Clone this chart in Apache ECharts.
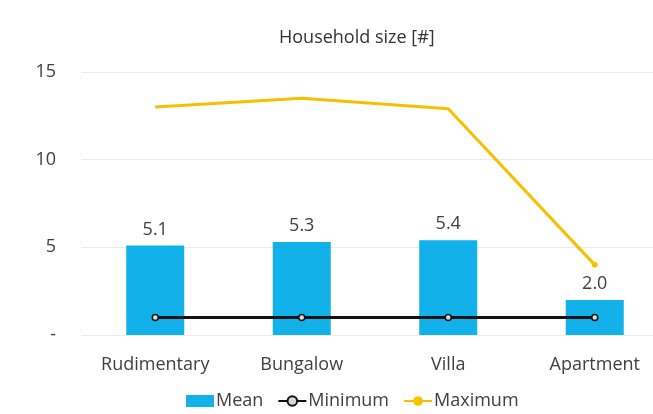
<!DOCTYPE html>
<html>
<head>
<meta charset="utf-8">
<script src="https://cdn.jsdelivr.net/npm/echarts@6/dist/echarts.min.js"></script>
<style>
  html, body { margin: 0; padding: 0; background: #ffffff; }
  #chart { width: 653px; height: 414px; }
</style>
</head>
<body>
<div id="chart"></div>
<script>
// Household size by dwelling type
const categories = ['Rudimentary', 'Bungalow', 'Villa', 'Apartment'];
const meanValues = [5.1, 5.3, 5.4, 2.0];
const minValues = [1, 1, 1, 1];
const maxValues = [13.0, 13.5, 12.9, 4.0];
const yTicks = [0, 5, 10, 15];

const textColor = '#404040';
const font = 'Open Sans';

const chart = echarts.init(document.getElementById('chart'));

chart.setOption({
  animation: false,
  backgroundColor: '#ffffff',
  title: {
    text: 'Household size [#]',
    left: 274,
    top: 24,
    textStyle: { fontFamily: font, fontSize: 18, fontWeight: 'normal', color: '#333333' }
  },
  legend: {
    left: 181,
    top: 387,
    itemWidth: 28,
    itemHeight: 12,
    itemGap: 14,
    textStyle: { fontFamily: font, fontSize: 18, color: textColor, padding: [0, 0, 0, -3] },
    data: [
      { name: 'Mean', icon: 'rect' },
      { name: 'Minimum' },
      { name: 'Maximum' }
    ]
  },
  grid: { left: 82, top: 72, width: 586, height: 263, outerBoundsMode: 'none' },
  xAxis: {
    type: 'category',
    data: categories,
    axisLine: { show: false },
    axisTick: { show: false },
    axisLabel: { fontFamily: font, fontSize: 18, color: textColor, margin: 21 }
  },
  yAxis: {
    type: 'value',
    min: yTicks[0],
    max: yTicks[yTicks.length - 1],
    interval: 5,
    axisLine: { show: false },
    axisTick: { show: false },
    splitLine: { lineStyle: { color: '#ececec', width: 1 } },
    axisLabel: {
      fontFamily: font, fontSize: 18, color: textColor, margin: 26,
      formatter: v => (v === 0 ? '-' : String(v))
    }
  },
  series: [
    {
      name: 'Mean',
      type: 'bar',
      data: meanValues,
      barWidth: 58,
      itemStyle: { color: '#12b1ea' },
      label: {
        show: true,
        position: 'top',
        distance: 7,
        formatter: p => p.value.toFixed(1),
        fontFamily: font, fontSize: 18, color: textColor
      },
      z: 1
    },
    {
      name: 'Minimum',
      type: 'line',
      data: minValues,
      symbol: 'circle',
      symbolSize: 6,
      itemStyle: { color: '#d9d9d9', borderColor: '#111111', borderWidth: 1.5 },
      lineStyle: { color: '#111111', width: 3 },
      z: 3
    },
    {
      name: 'Maximum',
      type: 'line',
      data: maxValues.map((v, i) =>
        i === maxValues.length - 1 ? { value: v, symbol: 'circle', symbolSize: 6 } : v),
      symbol: 'none',
      itemStyle: { color: '#f5c400' },
      lineStyle: { color: '#f5c000', width: 3 },
      z: 3
    }
  ]
});
</script>
</body>
</html>
